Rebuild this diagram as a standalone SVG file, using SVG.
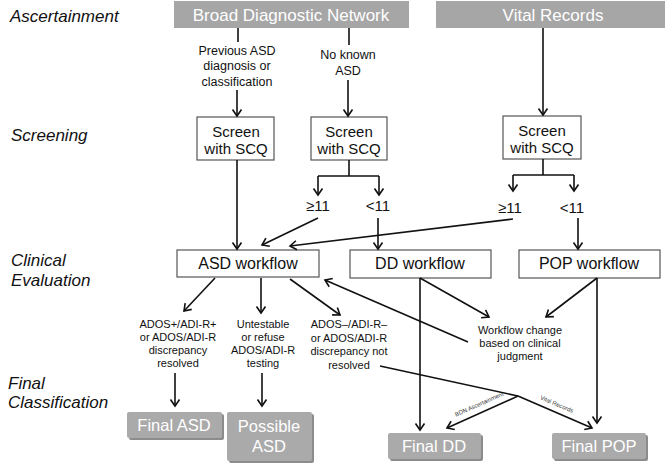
<svg xmlns="http://www.w3.org/2000/svg" width="666" height="463" viewBox="0 0 666 463">
<style>
.sec{font-family:"Liberation Sans",Arial,sans-serif;font-style:italic;font-size:17px;fill:#111}
.hdr{fill:#a6a6a6}
.hdrt{font-family:"Liberation Sans",Arial,sans-serif;font-size:17px;fill:#fff;text-anchor:middle}
.box{fill:#fff;stroke:#555;stroke-width:1.2}
.bt{font-family:"Liberation Sans",Arial,sans-serif;font-size:15px;fill:#111;text-anchor:middle}
.wt{font-family:"Liberation Sans",Arial,sans-serif;font-size:16px;fill:#111;text-anchor:middle}
.lab{font-family:"Liberation Sans",Arial,sans-serif;font-size:12.5px;fill:#111;text-anchor:middle}
.sm{font-family:"Liberation Sans",Arial,sans-serif;font-size:11px;fill:#111;text-anchor:middle}
.tiny{font-family:"Liberation Sans",Arial,sans-serif;font-size:6px;fill:#333;text-anchor:middle}
.fin{fill:#aaaaaa}
.sh{fill:#8c8c8c}
.fint{font-family:"Liberation Sans",Arial,sans-serif;font-size:16.5px;fill:#fff;text-anchor:middle}
.ln{fill:none;stroke:#111;stroke-width:1.6}
.ar{fill:none;stroke:#111;stroke-width:1.6;marker-end:url(#ah)}
</style>
<defs>
<marker id="ah" markerWidth="12" markerHeight="12" refX="10" refY="6" orient="auto" markerUnits="userSpaceOnUse">
<path d="M3.5,1.5 L10,6 L3.5,10.5" fill="none" stroke="#111" stroke-width="1.6"/>
</marker>
</defs>

<g id="section-labels">
<text class="sec" x="10" y="22">Ascertainment</text>
<text class="sec" x="11" y="141">Screening</text>
<text class="sec" x="11" y="266">Clinical</text>
<text class="sec" x="11" y="286">Evaluation</text>
<text class="sec" x="8" y="389">Final</text>
<text class="sec" x="8" y="408">Classification</text>
</g>

<g id="bdn">
<rect class="hdr" x="174" y="1" width="235" height="27"/>
<text class="hdrt" x="291" y="21">Broad Diagnostic Network</text>
</g>
<g id="vital">
<rect class="hdr" x="436" y="1" width="229" height="27"/>
<text class="hdrt" x="553" y="21">Vital Records</text>
</g>

<g id="screen1">
<rect class="box" x="197" y="117" width="77" height="43"/>
<text class="bt" x="236" y="137">Screen</text>
<text class="bt" x="236" y="154">with SCQ</text>
</g>
<g id="screen2">
<rect class="box" x="311" y="117" width="76" height="43"/>
<text class="bt" x="349" y="137">Screen</text>
<text class="bt" x="349" y="154">with SCQ</text>
</g>
<g id="screen3">
<rect class="box" x="503" y="116" width="78" height="43"/>
<text class="bt" x="542" y="136">Screen</text>
<text class="bt" x="542" y="153">with SCQ</text>
</g>

<g id="asd-workflow">
<rect class="box" x="177" y="250" width="142" height="27"/>
<text class="wt" x="248" y="269">ASD workflow</text>
</g>
<g id="dd-workflow">
<rect class="box" x="350" y="250" width="141" height="28"/>
<text class="wt" x="420" y="269">DD workflow</text>
</g>
<g id="pop-workflow">
<rect class="box" x="519" y="250" width="141" height="28"/>
<text class="wt" x="589" y="269">POP workflow</text>
</g>

<g id="final-asd">
<rect class="sh" x="129" y="414" width="95" height="26" rx="2"/>
<rect class="fin" x="127" y="412" width="95" height="26" rx="2"/>
<text class="fint" x="174" y="431">Final ASD</text>
</g>
<g id="possible-asd">
<rect class="sh" x="229" y="414" width="85" height="49" rx="2"/>
<rect class="fin" x="227" y="412" width="85" height="49" rx="2"/>
<text class="fint" x="269" y="432">Possible</text>
<text class="fint" x="269" y="452">ASD</text>
</g>
<g id="final-dd">
<rect class="sh" x="390" y="435" width="93" height="26" rx="2"/>
<rect class="fin" x="388" y="433" width="93" height="26" rx="2"/>
<text class="fint" x="434" y="452">Final DD</text>
</g>
<g id="final-pop">
<rect class="sh" x="554" y="435" width="94" height="26" rx="2"/>
<rect class="fin" x="552" y="433" width="94" height="26" rx="2"/>
<text class="fint" x="599" y="452">Final POP</text>
</g>

<g id="labels">
<text class="lab" x="237" y="55">Previous ASD</text>
<text class="lab" x="237" y="70">diagnosis or</text>
<text class="lab" x="237" y="86">classification</text>
<text class="lab" x="348" y="59">No known</text>
<text class="lab" x="348" y="75">ASD</text>
<text class="bt" x="318" y="211">≥11</text>
<text class="bt" x="378" y="211">&lt;11</text>
<text class="bt" x="510" y="213">≥11</text>
<text class="bt" x="572" y="213">&lt;11</text>
<text class="sm" x="178" y="328">ADOS+/ADI-R+</text>
<text class="sm" x="178" y="341">or ADOS/ADI-R</text>
<text class="sm" x="178" y="354">discrepancy</text>
<text class="sm" x="178" y="367">resolved</text>
<text class="sm" x="263" y="328">Untestable</text>
<text class="sm" x="263" y="341">or refuse</text>
<text class="sm" x="263" y="354">ADOS/ADI-R</text>
<text class="sm" x="263" y="367">testing</text>
<text class="sm" x="349" y="328">ADOS–/ADI-R–</text>
<text class="sm" x="349" y="342">or ADOS/ADI-R</text>
<text class="sm" x="349" y="355">discrepancy not</text>
<text class="sm" x="349" y="369">resolved</text>
<text class="sm" x="520" y="334">Workflow change</text>
<text class="sm" x="520" y="347">based on clinical</text>
<text class="sm" x="520" y="360">judgment</text>
<text class="tiny" transform="translate(480,406) rotate(-24)">BDN Ascertainment</text>
<text class="tiny" transform="translate(556,406) rotate(23)">Vital Records</text>
</g>

<g id="connectors">
<line class="ln" x1="238" y1="28" x2="238" y2="42"/>
<line class="ar" x1="237" y1="90" x2="237" y2="116"/>
<line class="ln" x1="349" y1="28" x2="349" y2="45"/>
<line class="ar" x1="348" y1="80" x2="348" y2="116"/>
<line class="ar" x1="543" y1="28" x2="543" y2="115"/>
<line class="ar" x1="237" y1="160" x2="237" y2="249"/>
<path class="ln" d="M349,160 V176"/>
<path class="ln" d="M318,176 H379"/>
<line class="ar" x1="318" y1="176" x2="318" y2="195"/>
<line class="ar" x1="379" y1="176" x2="379" y2="195"/>
<path class="ln" d="M543,159 V175"/>
<path class="ln" d="M513,175 H574"/>
<line class="ar" x1="513" y1="175" x2="513" y2="191"/>
<line class="ar" x1="574" y1="175" x2="574" y2="191"/>
<line class="ar" x1="318" y1="218" x2="262" y2="245"/>
<line class="ar" x1="513" y1="219" x2="290" y2="246"/>
<line class="ar" x1="378" y1="218" x2="378" y2="249"/>
<line class="ar" x1="578" y1="218" x2="578" y2="249"/>
<line class="ar" x1="215" y1="278" x2="184" y2="311"/>
<line class="ar" x1="261" y1="278" x2="261" y2="313"/>
<line class="ar" x1="290" y1="279" x2="340" y2="315"/>
<line class="ar" x1="175" y1="373" x2="175" y2="406"/>
<line class="ar" x1="262" y1="373" x2="262" y2="406"/>
<line class="ar" x1="420" y1="278" x2="420" y2="430"/>
<line class="ar" x1="597" y1="278" x2="597" y2="423"/>
<line class="ar" x1="420" y1="278" x2="489" y2="317"/>
<line class="ar" x1="597" y1="278" x2="546" y2="317"/>
<line class="ar" x1="468" y1="342" x2="325" y2="280"/>
<path class="ln" d="M380,366 L518,396"/>
<line class="ar" x1="518" y1="396" x2="447" y2="428"/>
<line class="ar" x1="518" y1="396" x2="592" y2="428"/>
</g>
</svg>
